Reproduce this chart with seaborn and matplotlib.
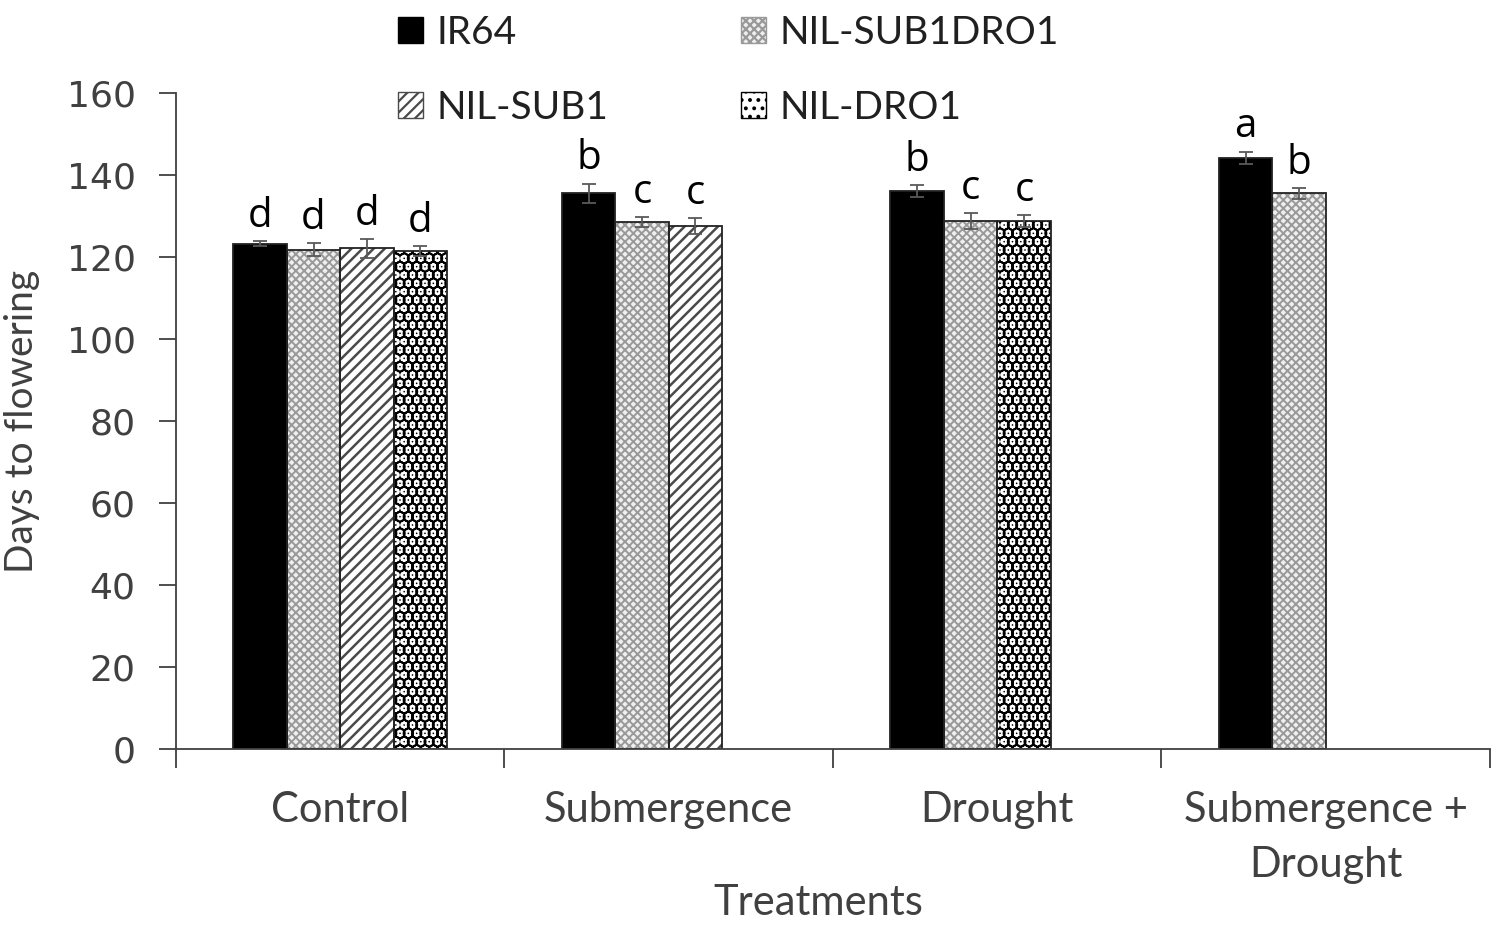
import numpy as np
import pandas as pd
import matplotlib
matplotlib.use("Agg")
import matplotlib.pyplot as plt
import seaborn as sns
from matplotlib.patches import Rectangle, Patch

# ---------------- data ----------------
treatments = ["Control", "Submergence", "Drought", "Submergence +\nDrought"]
genotypes = ["IR64", "NIL-SUB1DRO1", "NIL-SUB1", "NIL-DRO1"]
bar_genotypes = [
    ["IR64", "NIL-SUB1DRO1", "NIL-SUB1", "NIL-DRO1"],
    ["IR64", "NIL-SUB1DRO1", "NIL-SUB1"],
    ["IR64", "NIL-SUB1DRO1", "NIL-DRO1"],
    ["IR64", "NIL-SUB1DRO1"],
]
means = [
    [123.2, 121.8, 122.1, 121.4],
    [135.5, 128.5, 127.6],
    [136.1, 128.8, 128.7],
    [144.2, 135.5],
]
errors = [
    [0.6, 1.5, 2.3, 1.2],
    [2.4, 1.3, 2.0],
    [1.5, 2.0, 1.5],
    [1.5, 1.3],
]
letters = [
    ["d", "d", "d", "d"],
    ["b", "c", "c"],
    ["b", "c", "c"],
    ["a", "b"],
]
yticks = [0, 20, 40, 60, 80, 100, 120, 140, 160]

rows = []
for t, gs, ms, es, ls in zip(treatments, bar_genotypes, means, errors, letters):
    for slot, (g, m, e, l) in enumerate(zip(gs, ms, es, ls)):
        rows.append(dict(treatment=t, slot=slot, genotype=g, mean=m, err=e, letter=l))
df = pd.DataFrame(rows)

styles = {
    "IR64": dict(face="black", hatch=None, hcol="black", hlw=1.6),
    "NIL-SUB1DRO1": dict(face="#efefef", hatch="xxxx", hcol="#999999", hlw=1.4),
    "NIL-SUB1": dict(face="white", hatch="///", hcol="#4a4a4a", hlw=1.8),
    "NIL-DRO1": dict(face="white", hatch="..", hcol="black", hlw=7.0),
}

# ---------------- plot ----------------
sns.set_style("white")
plt.rcParams["font.family"] = ["Lato", "DejaVu Sans"]
plt.rcParams["hatch.linewidth"] = 1.6

fig = plt.figure(figsize=(15, 9.25), dpi=100)
ax = fig.add_axes([0.1173, 0.1903, 0.8760, 0.7092])

sns.barplot(data=df, x="treatment", y="mean", hue="slot", order=treatments,
            hue_order=[0, 1, 2, 3], width=0.65, dodge=True, errorbar=None,
            legend=False, ax=ax, palette=["black"] * 4, saturation=1)

def set_hlw(p, lw):
    try:
        p.set_hatch_linewidth(lw)
    except Exception:
        pass

W = 0.65 / 4
for p in list(ax.patches):
    h = p.get_height()
    if not np.isfinite(h) or h <= 0:
        continue
    x0 = p.get_x()
    w = p.get_width()
    c = x0 + w / 2
    cat = int(round(c))
    slot = int(round((x0 - (cat - 0.325)) / W))
    row = df[(df.treatment == treatments[cat]) & (df.slot == slot)]
    if row.empty:
        continue
    r = row.iloc[0]
    st = styles[r.genotype]
    p.set_facecolor(st["face"])
    p.set_edgecolor(st["hcol"])
    p.set_linewidth(0)
    if st["hatch"]:
        p.set_hatch(st["hatch"])
        set_hlw(p, st["hlw"])
    ax.add_patch(Rectangle((x0, 0), w, h, fill=False, edgecolor="#222222",
                           linewidth=1.3, zorder=p.get_zorder() + 0.1))
    ax.errorbar(c, r["mean"], yerr=r["err"], fmt="none", ecolor="#595959",
                elinewidth=1.3, capsize=5, capthick=1.3, zorder=5)
    ax.text(c, r["mean"] + r["err"] + 1.0, r["letter"], ha="center",
            va="bottom", fontsize=29, color="black", family=["Open Sans", "DejaVu Sans"])

ax.set_ylim(0, 160)
ax.set_xlim(-0.5, 3.5)
ax.set_yticks(yticks)
ax.set_yticklabels([str(v) for v in yticks], family=["DejaVu Sans"],
                   fontsize=26, color="#404040")
ax.set_xticks(range(len(treatments)))
ax.set_xticklabels(treatments, fontsize=30, color="#404040", linespacing=1.55)
ax.set_xticks(np.arange(-0.5, 4.0, 1.0), minor=True)
ax.tick_params(axis="x", which="major", length=0, pad=30)
ax.tick_params(axis="x", which="minor", length=14, width=1.3, color="#404040",
               direction="out", bottom=True)
ax.tick_params(axis="y", length=12, width=1.3, color="#404040",
               direction="out", left=True, pad=17)

for s in ["top", "right"]:
    ax.spines[s].set_visible(False)
for s in ["left", "bottom"]:
    ax.spines[s].set_color("#404040")
    ax.spines[s].set_linewidth(1.3)

ax.set_ylabel("Days to flowering", fontsize=28, color="#404040")
ax.yaxis.set_label_coords(-0.1035, 0.5)
ax.set_xlabel("Treatments", fontsize=30, color="#404040")
ax.xaxis.set_label_coords(0.4886, -0.206)

def handle(g):
    st = styles[g]
    ph = Patch(facecolor=st["face"], edgecolor=st["hcol"], hatch=st["hatch"],
               linewidth=1.0)
    if st["hatch"]:
        set_hlw(ph, st["hlw"] * 0.7)
    return ph

order = ["IR64", "NIL-SUB1", "NIL-SUB1DRO1", "NIL-DRO1"]
leg = fig.legend([handle(g) for g in order], order, ncol=2,
                 loc="upper left", bbox_to_anchor=(0.2417, 1.022),
                 frameon=False, fontsize=28, handlelength=0.65,
                 handleheight=0.65, handletextpad=0.35, columnspacing=3.4,
                 labelspacing=1.0)
for t in leg.get_texts():
    t.set_color("#202020")

fig.savefig("out.png", dpi=100)
